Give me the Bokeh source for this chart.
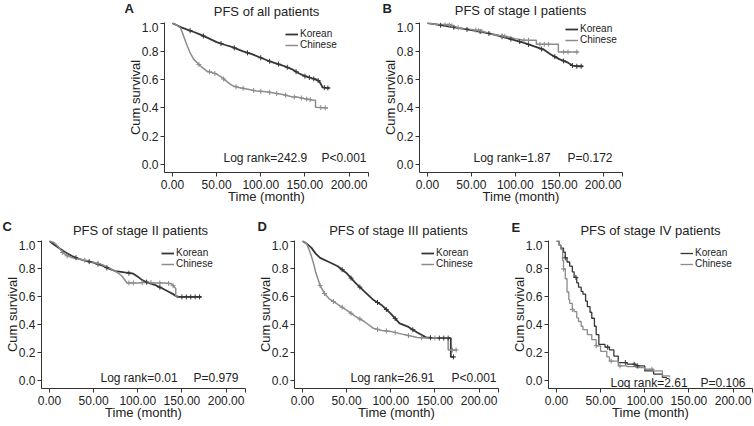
import numpy as np
from bokeh.plotting import figure
from bokeh.layouts import row, column
from bokeh.models import (Range1d, FixedTicker, PrintfTickFormatter, Label,
                          Legend, LegendItem, Spacer)
from bokeh.embed import file_html
from bokeh.resources import INLINE

FONT = "Liberation Sans"
K_COLOR = "#363636"
C_COLOR = "#8c8c8c"
TXT = "#222222"

X_END = 222
x_ticks = [0, 50, 100, 150, 200]
y_ticks = [0.0, 0.2, 0.4, 0.6, 0.8, 1.0]
legend_labels = ["Korean", "Chinese"]
x_label = "Time (month)"
y_label = "Cum survival"

# ---------------- Panel A: all patients ----------------
a_kor_t = [0, 5, 10, 16, 25, 31, 40, 50, 60, 68, 80, 90, 100, 112, 125, 135, 143, 150, 158, 163, 166, 168, 170, 178]
a_kor_s = [1.0, 0.985, 0.97, 0.955, 0.935, 0.92, 0.895, 0.865, 0.845, 0.83, 0.80, 0.78, 0.755, 0.725, 0.70, 0.675, 0.645, 0.625, 0.61, 0.60, 0.59, 0.57, 0.545, 0.54]
a_chi_t = [0, 5, 9, 12, 16, 20, 24, 28, 31, 35, 39, 45, 50, 55, 61, 65, 69, 75, 87, 95, 106, 115, 125, 135, 143, 150, 158, 162, 162, 176]
a_chi_s = [1.0, 0.985, 0.965, 0.92, 0.85, 0.79, 0.745, 0.72, 0.70, 0.68, 0.66, 0.65, 0.64, 0.62, 0.59, 0.57, 0.555, 0.545, 0.53, 0.52, 0.515, 0.505, 0.495, 0.48, 0.475, 0.465, 0.457, 0.455, 0.405, 0.40]
a_kor_cens = [20, 35, 55, 70, 85, 100, 110, 120, 130, 140, 150, 155, 160, 165, 172, 176]
a_chi_cens = [30, 42, 48, 58, 72, 80, 92, 100, 110, 118, 128, 138, 146, 152, 156, 168, 173]

# ---------------- Panel B: stage I ----------------
b_kor_t = [0, 10, 25, 40, 50, 60, 75, 90, 100, 110, 125, 133, 140, 150, 160, 165, 170, 177]
b_kor_s = [1.0, 0.99, 0.975, 0.96, 0.95, 0.94, 0.92, 0.895, 0.878, 0.86, 0.828, 0.81, 0.78, 0.745, 0.72, 0.70, 0.695, 0.695]
b_chi_t = [0, 10, 25, 30, 40, 50, 60, 75, 90, 100, 110, 124, 124, 149, 149, 172]
b_chi_s = [1.0, 0.99, 0.99, 0.975, 0.96, 0.955, 0.945, 0.92, 0.905, 0.89, 0.878, 0.878, 0.85, 0.85, 0.796, 0.796]
b_kor_cens = [15, 30, 45, 60, 70, 85, 95, 105, 115, 130, 145, 155, 165, 170, 175]
b_chi_cens = [20, 25, 28, 35, 55, 58, 62, 85, 88, 110, 115, 128, 133, 138, 155, 160, 170]

# ---------------- Panel C: stage II ----------------
c_kor_t = [0, 5, 10, 18, 25, 32, 40, 50, 60, 68, 75, 85, 95, 100, 105, 112, 120, 128, 135, 140, 145, 172]
c_kor_s = [1.0, 0.975, 0.953, 0.92, 0.895, 0.875, 0.86, 0.845, 0.824, 0.80, 0.785, 0.775, 0.766, 0.745, 0.72, 0.70, 0.684, 0.66, 0.637, 0.62, 0.60, 0.60]
c_chi_t = [0, 5, 10, 15, 20, 25, 35, 50, 60, 70, 78, 82, 88, 100, 110, 120, 130, 138, 143, 143, 146]
c_chi_s = [1.0, 0.99, 0.96, 0.918, 0.895, 0.883, 0.87, 0.848, 0.83, 0.80, 0.77, 0.75, 0.70, 0.70, 0.705, 0.70, 0.70, 0.695, 0.66, 0.607, 0.607]
c_kor_cens = [30, 45, 55, 65, 90, 110, 125, 150, 155, 160, 165, 170]
c_chi_cens = [15, 20, 40, 55, 90, 95, 105, 115, 125, 135, 140]

# ---------------- Panel D: stage III ----------------
d_kor_t = [0, 5, 10, 15, 20, 30, 40, 50, 60, 70, 80, 90, 100, 110, 120, 130, 140, 150, 168, 168, 172]
d_kor_s = [1.0, 0.98, 0.953, 0.91, 0.88, 0.85, 0.82, 0.77, 0.70, 0.64, 0.58, 0.54, 0.48, 0.41, 0.385, 0.345, 0.31, 0.305, 0.305, 0.17, 0.17]
d_chi_t = [0, 3, 5, 8, 10, 13, 15, 18, 20, 25, 30, 40, 50, 60, 70, 80, 90, 100, 115, 130, 140, 165, 165, 175]
d_chi_s = [1.0, 0.99, 0.976, 0.93, 0.894, 0.83, 0.776, 0.72, 0.682, 0.624, 0.588, 0.546, 0.506, 0.46, 0.424, 0.376, 0.36, 0.353, 0.33, 0.31, 0.306, 0.306, 0.22, 0.22]
d_kor_cens = [45, 55, 65, 85, 95, 105, 125, 145, 155, 160, 165, 171]
d_chi_cens = [20, 25, 35, 45, 55, 65, 85, 95, 105, 120, 135, 150, 170, 174]

# ---------------- Panel E: stage IV (step curves) ----------------
e_kor_t = [0, 3, 5, 8, 10, 12, 15, 18, 20, 23, 25, 28, 30, 33, 35, 38, 40, 43, 45, 48, 55, 60, 65, 70, 80, 90, 100, 110, 120, 125]
e_kor_s = [1.0, 0.97, 0.95, 0.92, 0.88, 0.85, 0.82, 0.78, 0.74, 0.70, 0.67, 0.64, 0.62, 0.57, 0.53, 0.49, 0.447, 0.39, 0.33, 0.26, 0.24, 0.22, 0.176, 0.13, 0.118, 0.106, 0.07, 0.047, 0.024, 0.024]
e_chi_t = [0, 3, 5, 7, 8, 10, 12, 14, 15, 18, 20, 23, 25, 28, 30, 35, 40, 45, 50, 55, 57, 60, 70, 80, 90, 100, 110, 120, 128]
e_chi_s = [1.0, 0.97, 0.94, 0.86, 0.80, 0.73, 0.635, 0.58, 0.553, 0.51, 0.494, 0.45, 0.424, 0.39, 0.365, 0.33, 0.294, 0.25, 0.21, 0.21, 0.17, 0.14, 0.106, 0.10, 0.094, 0.082, 0.07, 0.035, 0.024]
e_kor_cens = [10, 22, 58, 78, 88, 92]
e_chi_cens = [8, 18, 45, 62, 72, 108]


def curve_at(t, s, pts, step):
    t = np.asarray(t, float)
    s = np.asarray(s, float)
    pts = np.asarray(pts, float)
    if step:
        idx = np.searchsorted(t, pts, side="right") - 1
        return s[np.clip(idx, 0, len(s) - 1)]
    return np.interp(pts, t, s)


def lab(p, text, x, y, size="13px", align="center", bold=False):
    p.add_layout(Label(x=x, y=y, x_units="screen", y_units="screen", text=text,
                       text_font=FONT, text_font_size=size, text_color=TXT,
                       text_align=align, text_baseline="middle",
                       text_font_style="bold" if bold else "normal"))


def header(h, items):
    """A strip that carries the panel letters and titles."""
    p = figure(width=754, height=h, output_backend="svg", toolbar_location=None,
               x_range=Range1d(0, 754), y_range=Range1d(0, h),
               x_axis_location=None, y_axis_location=None, min_border=0)
    p.outline_line_color = None
    p.grid.visible = False
    for text, x, y, align, bold in items:
        lab(p, text, x, y, align=align, bold=bold)
    return p


def panel(kt, ks, ct, cs, kcen, ccen, logrank, pval, step,
          fw, fh, bl, br, bb, leg_x, leg_top, lr_x, p_x, stat_y):
    p = figure(width=bl + fw + br, height=fh + bb, output_backend="svg",
               toolbar_location=None, x_range=Range1d(-9, X_END),
               y_range=Range1d(-0.056, 1.004),
               min_border_left=bl, min_border_right=br,
               min_border_top=0, min_border_bottom=bb)
    p.outline_line_color = None
    p.grid.visible = False

    if step:
        rk = p.step(kt, ks, mode="after", line_color=K_COLOR, line_width=1.3)
        rc = p.step(ct, cs, mode="after", line_color=C_COLOR, line_width=1.3)
    else:
        rk = p.line(kt, ks, line_color=K_COLOR, line_width=1.8)
        rc = p.line(ct, cs, line_color=C_COLOR, line_width=1.5)
    p.scatter(kcen, curve_at(kt, ks, kcen, step), marker="cross", size=5,
              line_color=K_COLOR, line_width=1)
    p.scatter(ccen, curve_at(ct, cs, ccen, step), marker="cross", size=5,
              line_color=C_COLOR, line_width=1)

    for ax in (p.xaxis[0], p.yaxis[0]):
        ax.axis_line_color = "#333333"
        ax.major_tick_line_color = "#333333"
        ax.minor_tick_line_color = None
        ax.major_tick_in = 0
        ax.major_tick_out = 4
        ax.major_label_text_font = FONT
        ax.major_label_text_font_size = "12px"
        ax.major_label_text_color = TXT
        ax.axis_label_text_font = FONT
        ax.axis_label_text_font_size = "13px"
        ax.axis_label_text_font_style = "normal"
        ax.axis_label_text_color = TXT
    # ticks at the labelled values plus one unlabelled tick at the axis end
    p.xaxis.ticker = FixedTicker(ticks=x_ticks + [X_END - 0.5])
    p.xaxis.formatter = PrintfTickFormatter(format="%.2f")
    p.xaxis.major_label_overrides = {X_END - 0.5: ""}
    p.xaxis.axis_label = x_label
    p.xaxis.major_label_standoff = 3
    p.xaxis.axis_label_standoff = -3
    p.yaxis.ticker = FixedTicker(ticks=y_ticks)
    p.yaxis.formatter = PrintfTickFormatter(format="%.1f")
    p.yaxis.axis_label = y_label
    p.yaxis.major_label_standoff = 2
    p.yaxis.axis_label_standoff = -4

    legend = Legend(items=[LegendItem(label=legend_labels[0], renderers=[rk]),
                           LegendItem(label=legend_labels[1], renderers=[rc])],
                    location=(leg_x, fh - leg_top - 26), border_line_color=None,
                    background_fill_alpha=0, label_text_font=FONT,
                    label_text_font_size="10px", label_text_color=TXT,
                    glyph_width=13, glyph_height=8, label_height=11,
                    spacing=0, padding=2, margin=0, label_standoff=2)
    p.add_layout(legend)

    lab(p, logrank, lr_x, stat_y, size="12px", align="left")
    lab(p, pval, p_x, stat_y, size="12px", align="left")
    return p


pA = panel(a_kor_t, a_kor_s, a_chi_t, a_chi_s, a_kor_cens, a_chi_cens,
           "Log rank=242.9", "P<0.001", False,
           fw=204, fh=150, bl=41, br=10, bb=40,
           leg_x=121, leg_top=2, lr_x=59, p_x=157, stat_y=15)
pB = panel(b_kor_t, b_kor_s, b_chi_t, b_chi_s, b_kor_cens, b_chi_cens,
           "Log rank=1.87", "P=0.172", False,
           fw=203, fh=150, bl=41, br=20, bb=40,
           leg_x=146, leg_top=-3, lr_x=54, p_x=148, stat_y=15)
pC = panel(c_kor_t, c_kor_s, c_chi_t, c_chi_s, c_kor_cens, c_chi_cens,
           "Log rank=0.01", "P=0.979", False,
           fw=204, fh=148, bl=41, br=8, bb=38,
           leg_x=120, leg_top=3, lr_x=59, p_x=152, stat_y=11)
pD = panel(d_kor_t, d_kor_s, d_chi_t, d_chi_s, d_kor_cens, d_chi_cens,
           "Log rank=26.91", "P<0.001", False,
           fw=204, fh=148, bl=41, br=9, bb=38,
           leg_x=127, leg_top=3, lr_x=56, p_x=157, stat_y=11)
pE = panel(e_kor_t, e_kor_s, e_chi_t, e_chi_s, e_kor_cens, e_chi_cens,
           "Log rank=2.61", "P=0.106", True,
           fw=204, fh=148, bl=41, br=2, bb=38,
           leg_x=132, leg_top=3, lr_x=62, p_x=152, stat_y=6)

# header strips: (text, x, y-from-bottom, align, bold)
head_top = header(22, [("A", 124, 14, "left", True),
                       ("PFS of all patients", 266, 11, "center", False),
                       ("B", 382, 14, "left", True),
                       ("PFS of stage I patients", 520, 12, "center", False)])
head_bot = header(28, [("C", 2, 14, "left", True),
                       ("PFS of stage II patients", 140, 10, "center", False),
                       ("D", 257, 14, "left", True),
                       ("PFS of stage III patients", 398, 10, "center", False),
                       ("E", 511, 13, "left", True),
                       ("PFS of stage IV patients", 650, 10, "center", False)])

top = row(Spacer(width=123, height=190), pA, pB)
bottom = row(pC, pD, pE)
layout = column(head_top, top, head_bot, bottom)

with open("out.html", "w") as f:
    f.write(file_html(layout, INLINE))
